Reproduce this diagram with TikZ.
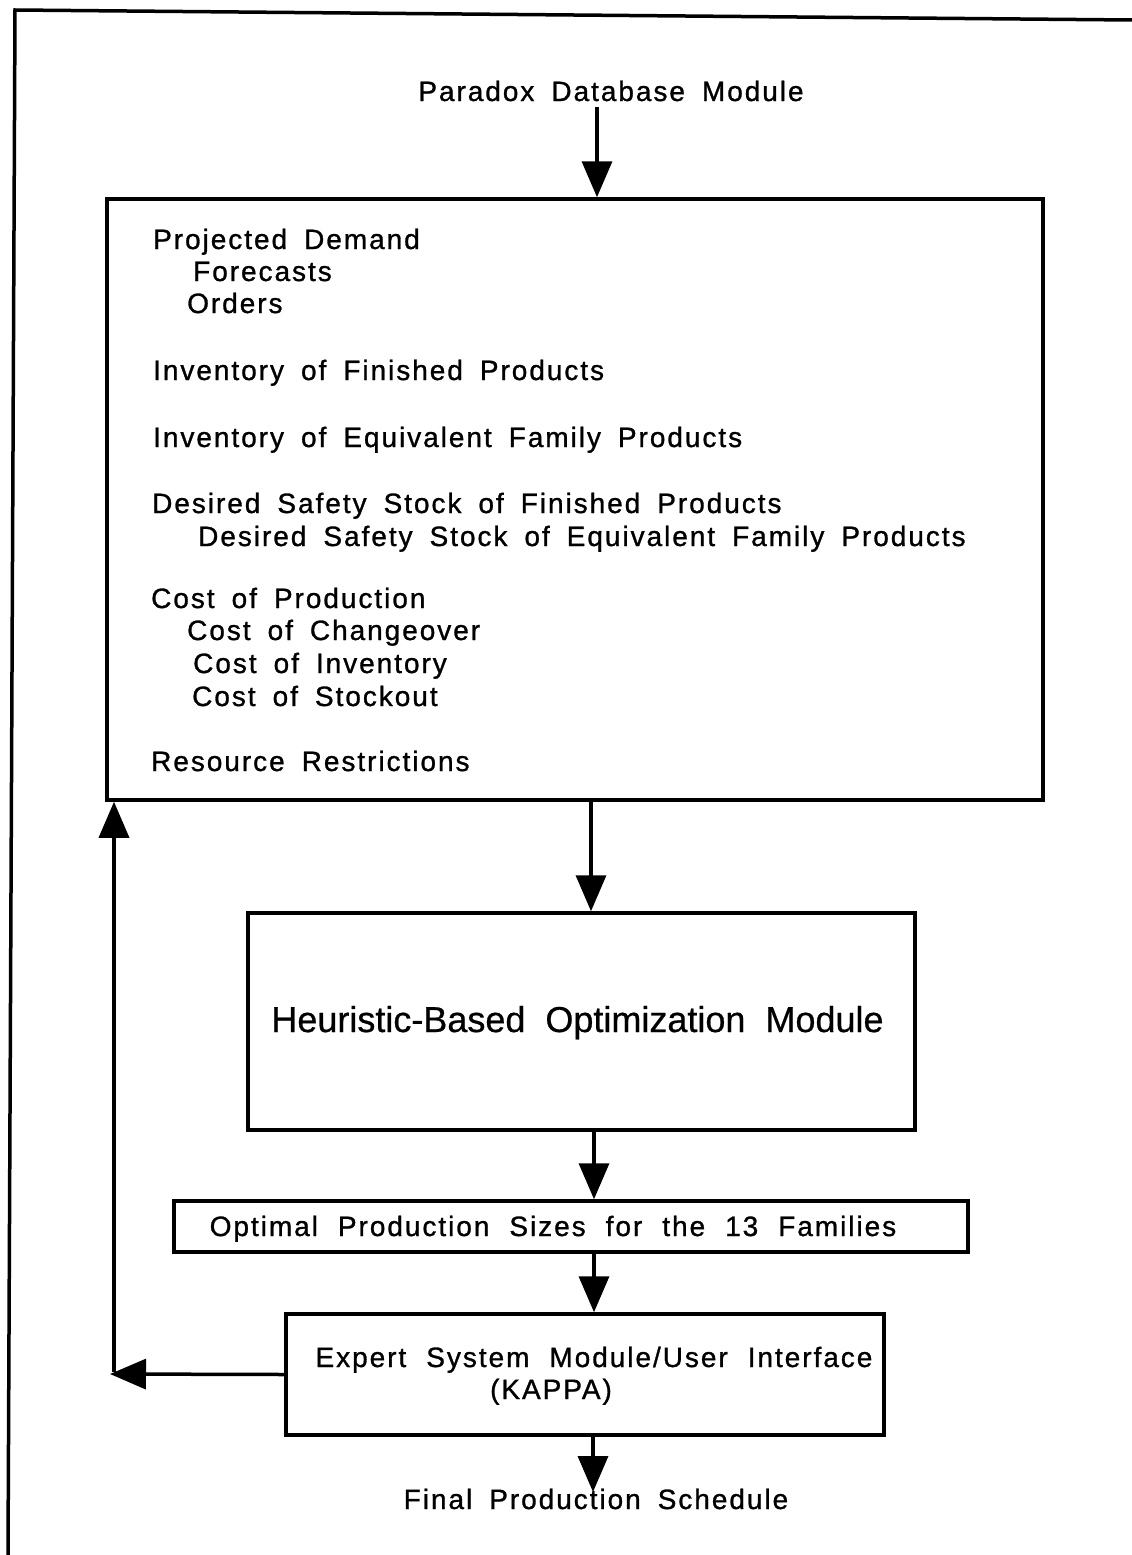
\documentclass[tikz,border=0pt]{standalone}
\usepackage{fontspec}
\setmainfont{Liberation Sans}
\newfontfamily\lsf[LetterSpace=7,FakeBold=1]{Liberation Sans}
\newfontfamily\hsf[FakeBold=0.6]{Liberation Sans}
\newcommand\lsstyle{\lsf\fontsize{28}{32}\selectfont\spaceskip 17pt plus 2pt\relax}
\newcommand\lswide{\lsf\fontsize{28}{32}\selectfont\spaceskip 20pt plus 2pt\relax}
\newcommand\bigstyle{\hsf\fontsize{36}{40}\selectfont\spaceskip 20pt plus 2pt\relax}
\usetikzlibrary{arrows.meta}
\begin{document}
\begin{tikzpicture}[x=1pt,y=-1pt,
  frame/.style={line width=3.5pt},
  box/.style={draw,line width=3.5pt,inner sep=0pt},
  arr/.style={line width=3.5pt,-{Triangle[length=36pt,width=30pt]}},
  lbl/.style={inner sep=0pt,anchor=base west,font=\lsstyle},
  clbl/.style={inner sep=0pt,anchor=base,font=\lsstyle}
]
\useasboundingbox (0,0) rectangle (1132,1555);
% outer frame (top and left edges only)
\draw[frame] (1132,20) -- (15,10) -- (8,1555);

% title
\node[clbl] (title) at (611,101) {Paradox Database Module};

% data box
\node[box,minimum width=936pt,minimum height=601pt] (data) at (575,499.5) {};
\node[lbl] (t1) at (153,249) {Projected Demand};
\node[lbl] (t2) at (193,281) {Forecasts};
\node[lbl] (t3) at (187,313) {Orders};
\node[lbl] (t4) at (153,380) {Inventory of Finished Products};
\node[lbl] (t5) at (153,447) {Inventory of Equivalent Family Products};
\node[lbl] (t6) at (152,513) {Desired Safety Stock of Finished Products};
\node[lbl] (t7) at (198,546) {Desired Safety Stock of Equivalent Family Products};
\node[lbl] (t8) at (151,608) {Cost of Production};
\node[lbl] (t9) at (187,640) {Cost of Changeover};
\node[lbl] (t10) at (193,673) {Cost of Inventory};
\node[lbl] (t11) at (192,706) {Cost of Stockout};
\node[lbl] (t12) at (151,771) {Resource Restrictions};

% heuristic box
\node[box,minimum width=667pt,minimum height=217pt] (heur) at (581.5,1021.5) {};
\node[inner sep=0pt,anchor=base,font=\bigstyle] (heurt) at (577.5,1032) {Heuristic-Based Optimization Module};

% optimal box
\node[box,minimum width=794pt,minimum height=51pt] (opt) at (571,1226.5) {};
\node[clbl,font=\lswide] (optt) at (553,1236) {Optimal Production Sizes for the 13 Families};

% expert box
\node[box,minimum width=598pt,minimum height=121pt] (exp) at (585,1374.5) {};
\node[clbl,font=\lswide] (expt) at (594,1367) {Expert System Module/User Interface};
\node[clbl] (kappa) at (551,1399) {(KAPPA)};

% final
\node[clbl] (final) at (596,1509) {Final Production Schedule};
\coordinate (fend) at (593,1492);

% connectors
\draw[arr] ([xshift=-14pt,yshift=-6pt]title.base) -- ([xshift=-14pt]title.base |- data.north);
\draw[arr] ([xshift=16pt]data.south) -- ([xshift=16pt]data.south |- heur.north);
\draw[arr] ([xshift=12.5pt]heur.south) -- ([xshift=12.5pt]heur.south |- opt.north);
\draw[arr] ([xshift=23pt]opt.south) -- ([xshift=23pt]opt.south |- exp.north);
\draw[arr] ([xshift=8pt]exp.south) -- (fend);

% feedback loop
\coordinate (fbl) at (110,1374);
\coordinate (fbv) at (114,1372);
\draw[arr] (exp.west) -- (fbl);
\draw[arr] (fbv) -- (fbv |- data.south);
\end{tikzpicture}
\end{document}
